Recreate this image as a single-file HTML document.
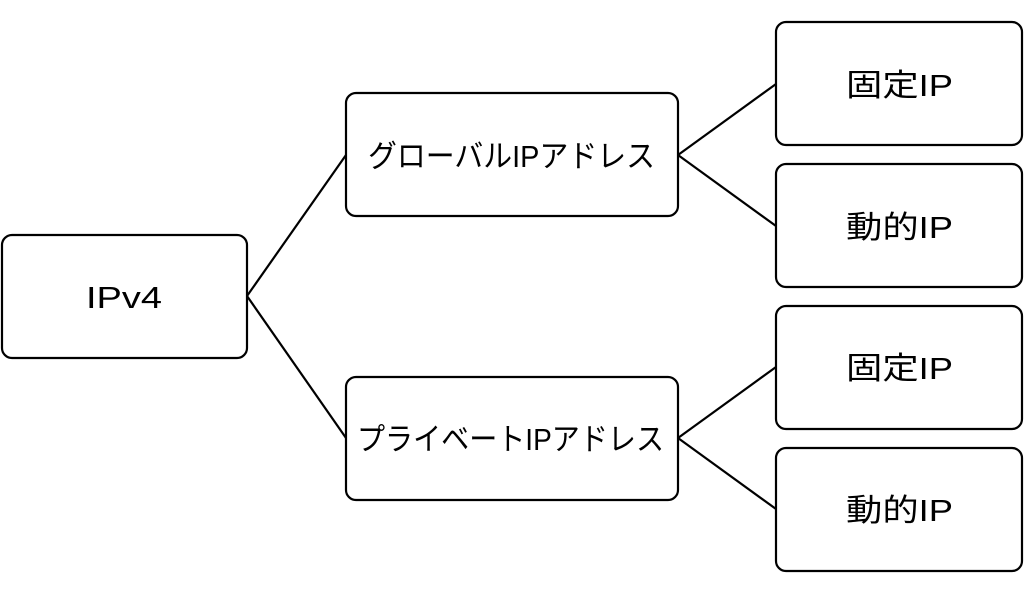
<!DOCTYPE html>
<html><head><meta charset="utf-8"><style>
body{margin:0;background:#fff;width:1024px;height:593px;overflow:hidden}
svg text{font-family:"Liberation Sans","Noto Sans CJK JP",sans-serif;font-size:31px;fill:#000}
</style></head><body>
<svg width="1024" height="593" xmlns="http://www.w3.org/2000/svg">
<g fill="#fff" stroke="#000" stroke-width="2.2">
<rect x="2" y="235" width="245" height="123" rx="10"/>
<rect x="346" y="93" width="332" height="123" rx="10"/>
<rect x="346" y="377" width="332" height="123" rx="10"/>
<rect x="776" y="22" width="246" height="123" rx="10"/>
<rect x="776" y="164" width="246" height="123" rx="10"/>
<rect x="776" y="306" width="246" height="123" rx="10"/>
<rect x="776" y="448" width="246" height="123" rx="10"/>
</g>
<g stroke="#000" stroke-width="2.2">
<line x1="247" y1="296" x2="346" y2="155"/>
<line x1="247" y1="296" x2="346" y2="438"/>
<line x1="678" y1="155" x2="776" y2="84"/>
<line x1="678" y1="155" x2="776" y2="226"/>
<line x1="678" y1="438" x2="776" y2="367"/>
<line x1="678" y1="438" x2="776" y2="509"/>
</g>
<g>
<text x="86" y="308" textLength="76" lengthAdjust="spacingAndGlyphs">IPv4</text>
<text x="368" y="167" textLength="287" lengthAdjust="spacingAndGlyphs">グローバルIPアドレス</text>
<text x="357" y="450" textLength="307" lengthAdjust="spacingAndGlyphs">プライベートIPアドレス</text>
<text x="846" y="96" textLength="107" lengthAdjust="spacingAndGlyphs">固定IP</text>
<text x="846" y="238" textLength="107" lengthAdjust="spacingAndGlyphs">動的IP</text>
<text x="846" y="379" textLength="107" lengthAdjust="spacingAndGlyphs">固定IP</text>
<text x="846" y="521" textLength="107" lengthAdjust="spacingAndGlyphs">動的IP</text>
</g>
</svg>
</body></html>
